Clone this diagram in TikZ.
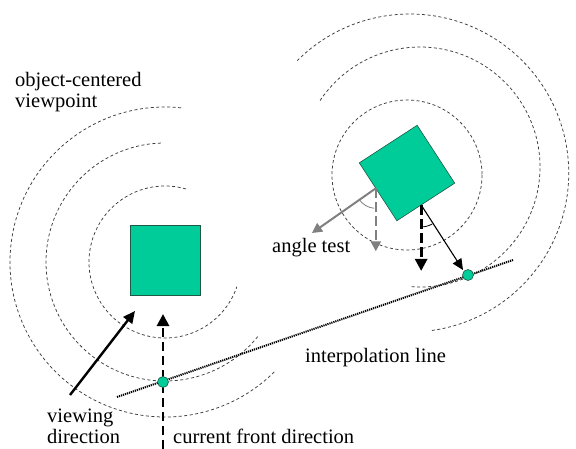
\documentclass[tikz,border=0pt]{standalone}
\usepackage{fontspec}
\setmainfont{Liberation Serif}
\newfontfamily\lblfont{Liberation Serif}
\usetikzlibrary{arrows.meta,calc}
\definecolor{obj}{RGB}{0,204,153}
\definecolor{objline}{RGB}{30,90,70}
\definecolor{arcc}{RGB}{60,60,60}
\definecolor{testgray}{RGB}{128,128,128}
\begin{document}
\begin{tikzpicture}[x=1pt,y=-1pt,
  ring/.style={draw=arcc,line width=0.75pt,dash pattern=on 3pt off 2.5pt},
  objbox/.style={draw=objline,line width=0.6pt,fill=obj,minimum size=#1,inner sep=0,outer sep=0},
  dotnode/.style={circle,draw=objline,line width=0.6pt,fill=obj,minimum size=11pt,inner sep=0},
  lbl/.style={anchor=base west,inner sep=0,font=\lblfont\fontsize{20.5}{23}\selectfont},
  interp/.style={line width=2pt,dash pattern=on 1.2pt off 0.9pt},
  viewarrow/.style={line width=2.4pt,-{Triangle[length=12pt,width=11pt]}},
  frontarrow/.style={line width=2.8pt,dash pattern=on 9pt off 5pt,-{Triangle[length=12pt,width=12pt]}},
  grayarrow/.style={draw=testgray,line width=2pt,-{Triangle[length=10pt,width=10pt]}},
  graydash/.style={draw=testgray,line width=2.4pt,dash pattern=on 10pt off 4pt,-{Triangle[length=10pt,width=10pt]}},
  thinarrow/.style={line width=1.1pt,-{Triangle[length=11pt,width=10pt]}},
  anglemark/.style={line width=0.8pt}
]
\useasboundingbox (0,0) rectangle (576,448);
\fill[white] (0,0) rectangle (576,448);

% centers of the rings
\coordinate (CL) at (165,262);
\coordinate (CR) at (407,175);
\coordinate (CM) at (420,167);
\coordinate (CO) at (410,175);

% left rings
\draw[ring] ($(CL)+(-74:76)$) arc[start angle=-74,end angle=-341,radius=76];
\draw[ring] ($(CL)+(-92:119)$) arc[start angle=-92,end angle=-322,radius=119];
\draw[ring] ($(CL)+(-84:155)$) arc[start angle=-84,end angle=-315,radius=155];

% right rings
\draw[ring] (CR) circle[radius=75];
\draw[ring] ($(CM)+(94:120)$) arc[start angle=94,end angle=-147,radius=120];
\draw[ring] ($(CO)+(82:157)$) arc[start angle=82,end angle=-135,radius=159];

% interpolation line
\coordinate (I0) at (117,397);
\coordinate (I1) at (513,260);
\draw[interp] (I0) -- (I1);

% objects
\node[objbox=70pt] (L) at (165,260) {};
\node[objbox=69pt,rotate=33] (R) at (407,173) {};

% left arrows
\coordinate (V0) at (70,395);
\coordinate (V1) at (135,311);
\draw[viewarrow] (V0) -- (V1);
\coordinate (F0) at (163,449);
\coordinate (F1) at (163,314);
\draw[frontarrow] (F0) -- (F1);

% right arrows
\coordinate (G) at ($(R.north west)!0.44!(R.south west)$);
\coordinate (G1) at (312,233);
\coordinate (G2) at ($(G)+(0,63)$);
\draw[grayarrow] (G) -- (G1);
\draw[graydash] (G) -- (G2);
\draw[testgray,anglemark] ($(G)+(147:20)$) arc[start angle=147,end angle=95,radius=20];

\coordinate (B) at ($(R.south west)!0.42!(R.south east)$);
\coordinate (B1) at (463,270);
\coordinate (B2) at ($(B)+(0,66)$);
\draw[frontarrow,dash pattern=on 10pt off 4pt] (B) -- (B2);
\draw[thinarrow] (B) -- (B1);
\draw[anglemark] ($(B)+(90:22)$) arc[start angle=90,end angle=60,radius=22];

% dots on the interpolation line
\node[dotnode] (D1) at (163,382) {};
\node[dotnode] (D2) at (468,275) {};

% labels
\node[lbl] (t1) at (15,86) {object-centered};
\node[lbl] (t2) at (15,107) {viewpoint};
\node[lbl] (t3) at (272,252) {angle test};
\node[lbl] (t4) at (305,362) {interpolation line};
\node[lbl] (t5) at (47,422) {viewing};
\node[lbl] (t6) at (47,443) {direction};
\node[lbl] (t7) at (173,443) {current front direction};
\end{tikzpicture}
\end{document}
